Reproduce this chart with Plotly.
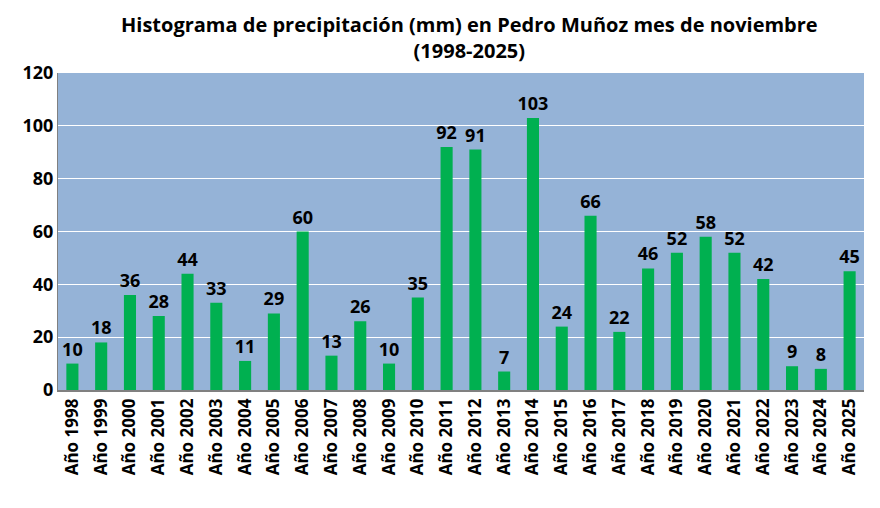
import plotly.graph_objects as go

# Datos de precipitación de noviembre (mm)
anios = ['Año ' + str(a) for a in range(1998, 2026)]
precipitacion = [10, 18, 36, 28, 44, 33, 11, 29, 60, 13, 26, 10, 35, 92, 91, 7,
                 103, 24, 66, 22, 46, 52, 58, 52, 42, 9, 8, 45]

titulo = '<b>Histograma de precipitación (mm) en Pedro Muñoz mes de noviembre<br>(1998-2025)</b>'

fig = go.Figure()

fig.add_trace(go.Bar(
    x=anios, y=precipitacion,
    marker=dict(color='#00B050', line=dict(width=0)),
    text=precipitacion, texttemplate='<b>%{text}</b>',
    textposition='outside', cliponaxis=False,
    textfont=dict(size=18, color='black', family='Open Sans'),
))

fig.update_layout(
    width=880, height=508,
    margin=dict(l=50, r=24, t=65, b=126),
    paper_bgcolor='white', plot_bgcolor='#95B3D7',
    bargap=0.58, showlegend=False,
    uniformtext=dict(minsize=18, mode='show'),
    font=dict(family='Open Sans', color='black'),
)

# título como anotación (dos líneas)
fig.add_annotation(text=titulo, xref='paper', yref='paper', x=0.511, y=1.112,
                   xanchor='center', yanchor='middle', showarrow=False,
                   font=dict(size=20, color='black', family='Open Sans'))

fig.update_xaxes(tickangle=-90, tickfont=dict(size=17, family='Open Sans', weight='bold'),
                 showline=True, linecolor='#808080', linewidth=1.5, ticks='', automargin=False)
fig.update_yaxes(range=[0, 120], dtick=20, gridcolor='white', gridwidth=1,
                 tickfont=dict(size=18, family='Open Sans', weight='bold'),
                 showline=True, linecolor='#808080', linewidth=1, zeroline=False, ticks='',
                 automargin=False)

# marco del gráfico (borde derecho)
fig.add_shape(type='line', xref='paper', yref='paper', x0=1.0149, x1=1.0149, y0=-0.38, y1=1.3,
              line=dict(color='#BFBFBF', width=1))

fig.write_html("out.html")
